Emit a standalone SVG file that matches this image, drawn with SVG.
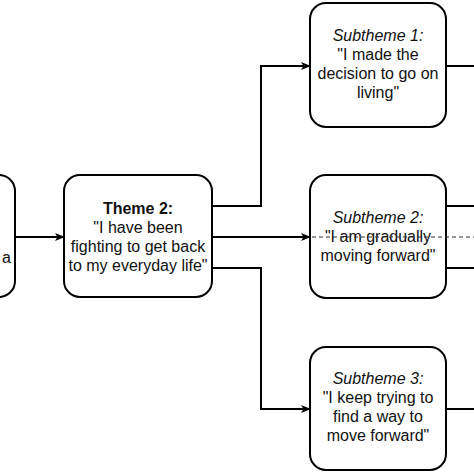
<svg xmlns="http://www.w3.org/2000/svg" width="474" height="474" viewBox="0 0 474 474">
<defs>
<marker id="arr" viewBox="0 0 10 8" refX="9" refY="4" markerWidth="10" markerHeight="8" markerUnits="userSpaceOnUse" orient="auto">
<path d="M0,0 L10,4 L0,8 L2.5,4 Z" fill="#000"/>
</marker>
</defs>
<style>
.box{fill:#fff;stroke:#000;stroke-width:2}
.t{font-family:"Liberation Sans",Arial,sans-serif;font-size:16px;fill:#111;text-anchor:middle}
.b{font-weight:bold}
.i{font-style:italic}
.c{fill:none;stroke:#000;stroke-width:2}
.d{fill:none;stroke:#333;stroke-width:1.2;stroke-dasharray:4 3}
</style>
<rect width="474" height="474" fill="#fff"/>
<g id="theme1">
<rect class="box" x="-120" y="175" width="135" height="122" rx="16"/>
<text class="t" x="11" y="263" style="text-anchor:end">a</text>
</g>
<g id="theme2">
<rect class="box" x="64" y="175" width="148" height="122" rx="16"/>
<text class="t b" x="138" y="214">Theme 2:</text>
<text class="t" x="138" y="233">"I have been</text>
<text class="t" x="138" y="252">fighting to get back</text>
<text class="t" x="138" y="271">to my everyday life"</text>
</g>
<g id="sub1">
<rect class="box" x="310" y="3" width="136" height="124" rx="16"/>
<text class="t i" x="378" y="41">Subtheme 1:</text>
<text class="t" x="378" y="60">"I made the</text>
<text class="t" x="378" y="79">decision to go on</text>
<text class="t" x="378" y="98">living"</text>
</g>
<g id="sub2">
<rect class="box" x="310" y="175" width="136" height="123" rx="16"/>
<text class="t i" x="378" y="223">Subtheme 2:</text>
<text class="t" x="378" y="242">"I am gradually</text>
<text class="t" x="378" y="261">moving forward"</text>
</g>
<g id="sub3">
<rect class="box" x="310" y="347" width="136" height="123" rx="16"/>
<text class="t i" x="378" y="384">Subtheme 3:</text>
<text class="t" x="378" y="403">"I keep trying to</text>
<text class="t" x="378" y="422">find a way to</text>
<text class="t" x="378" y="441">move forward"</text>
</g>
<g id="connectors">
<path class="c" d="M15,237 H64" marker-end="url(#arr)"/>
<path class="c" d="M212,206 H261 V66 H310" marker-end="url(#arr)"/>
<path class="c" d="M212,237 H310" marker-end="url(#arr)"/>
<path class="c" d="M212,268 H261 V409 H310" marker-end="url(#arr)"/>
<path class="d" d="M312,237 H474"/>
<path class="c" d="M446,66 H474"/>
<path class="c" d="M446,206 H474"/>
<path class="c" d="M446,268 H474"/>
<path class="c" d="M446,409 H474"/>
</g>
</svg>
